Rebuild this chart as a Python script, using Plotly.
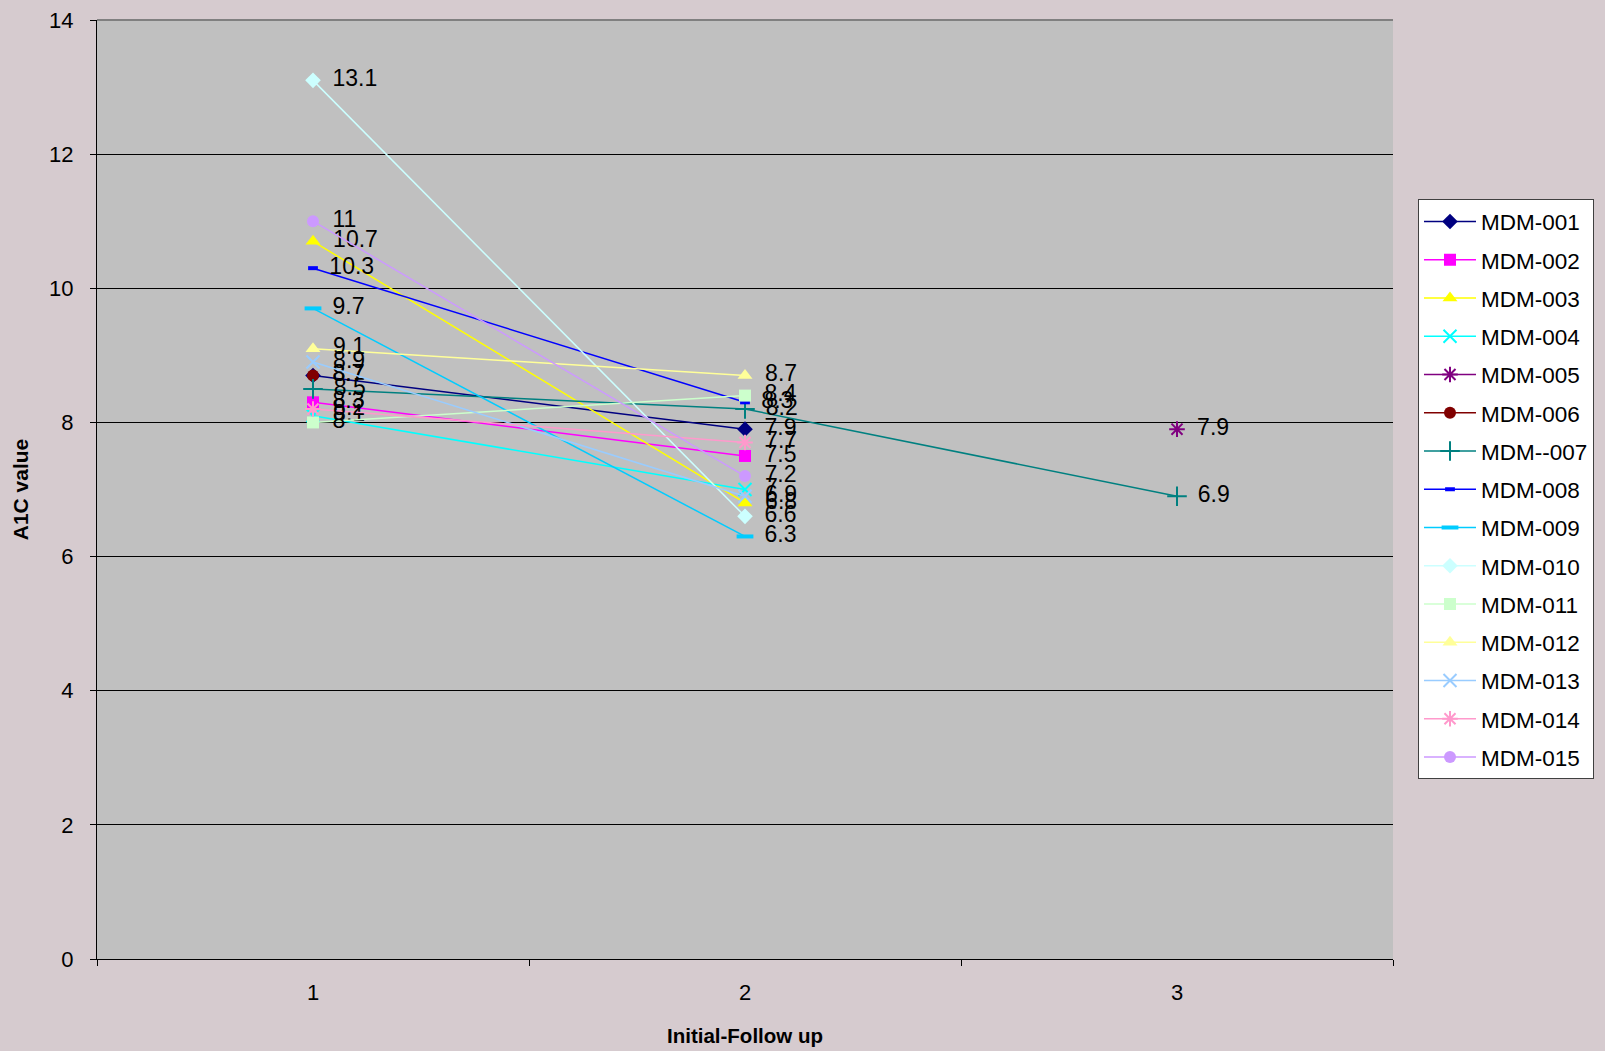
import plotly.graph_objects as go

visits = [1, 2, 3]
tick_labels = ["1", "2", "3"]

names = ["MDM-001", "MDM-002", "MDM-003", "MDM-004", "MDM-005", "MDM-006", "MDM--007",
         "MDM-008", "MDM-009", "MDM-010", "MDM-011", "MDM-012", "MDM-013", "MDM-014", "MDM-015"]

mdm001 = [8.7, 7.9, None]
mdm002 = [8.3, 7.5, None]
mdm003 = [10.7, 6.8, None]
mdm004 = [8.1, 7.0, None]
mdm005 = [None, None, 7.9]
mdm006 = [8.7, None, None]
mdm007 = [8.5, 8.2, 6.9]
mdm008 = [10.3, 8.3, None]
mdm009 = [9.7, 6.3, None]
mdm010 = [13.1, 6.6, None]
mdm011 = [8.0, 8.4, None]
mdm012 = [9.1, 8.7, None]
mdm013 = [8.9, 6.9, None]
mdm014 = [8.2, 7.7, None]
mdm015 = [11.0, 7.2, None]

series = [mdm001, mdm002, mdm003, mdm004, mdm005, mdm006, mdm007, mdm008,
          mdm009, mdm010, mdm011, mdm012, mdm013, mdm014, mdm015]

colors = ["#000080", "#FF00FF", "#FFFF00", "#00FFFF", "#800080", "#800000", "#008080",
          "#0000FF", "#00CCFF", "#CCFFFF", "#CCFFCC", "#FFFF99", "#99CCFF", "#FF99CC", "#CC99FF"]
symbols = ["diamond", "square", "triangle-up", "x-thin-open", "asterisk-open", "circle",
           "cross-thin-open", "line-ew-open", "line-ew-open", "diamond", "square",
           "triangle-up", "x-thin-open", "asterisk-open", "circle"]
sizes = [12, 12, 13, 13, 13, 12, 14, 7, 12, 12, 12, 13, 13, 13, 12]

FONT = "Liberation Sans, Arial, sans-serif"

fig = go.Figure()
for i, (name, vals, col, sym, sz) in enumerate(zip(names, series, colors, symbols, sizes)):
    is_open = sym.endswith("-open")
    lw = 4 if sym.startswith("line") else (2 if is_open else 0)
    fig.add_trace(go.Scatter(
        x=visits, y=vals, name=name, legendgroup=f"g{i}",
        mode="lines+markers+text",
        line=dict(color=col, width=1.5),
        marker=dict(symbol=sym, size=sz, color=col,
                    line=dict(color=col, width=lw)),
        text=[" \u2009" + f"{v:g}" if v is not None else "" for v in vals],
        textposition="middle right",
        textfont=dict(family=FONT, size=23, color="black"),
        cliponaxis=False,
    ))

fig.update_layout(
    width=1605, height=1051,
    paper_bgcolor="#d6cbcf",
    plot_bgcolor="#C0C0C0",
    margin=dict(l=97, r=211, t=20, b=92),
    font=dict(family=FONT, color="black"),
    showlegend=True,
    legend=dict(
        x=1.0185, xanchor="left", y=0.809, yanchor="top",
        bgcolor="white", bordercolor="#404040", borderwidth=1,
        font=dict(family=FONT, size=22.5, color="black"),
        tracegroupgap=6, itemwidth=52,
    ),
    xaxis=dict(
        range=[0.5, 3.5], tickvals=visits, ticktext=tick_labels, ticks="",
        showgrid=False, zeroline=False, automargin=False,
        showline=True, linecolor="black", linewidth=1,
        tickfont=dict(family=FONT, size=22), ticklabelstandoff=14,
        minor=dict(tick0=0.5, dtick=1, ticks="outside", ticklen=6, tickcolor="black", showgrid=False),
        title=dict(text="<b>Initial-Follow up</b>", font=dict(family=FONT, size=20.5), standoff=24),
    ),
    yaxis=dict(
        range=[0, 14], dtick=2, ticks="outside", ticklen=6, tickcolor="black",
        showgrid=True, gridcolor="black", gridwidth=1, zeroline=False, automargin=False,
        showline=True, linecolor="black", linewidth=1,
        tickfont=dict(family=FONT, size=22), ticklabelstandoff=12,
        title=dict(text="<b>A1C value</b>", font=dict(family=FONT, size=21), standoff=14),
    ),
)

fig.add_shape(type="line", xref="paper", yref="paper", x0=0, x1=1, y0=1, y1=1,
              line=dict(color="#808080", width=2))

fig.write_html("out.html", config={"displayModeBar": False},
               post_script="document.body.style.margin='0';document.body.style.overflow='hidden';")
